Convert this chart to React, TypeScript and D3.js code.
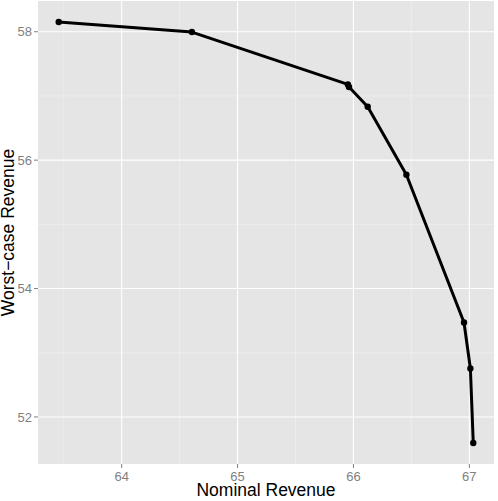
import { useEffect, useRef } from "react";
import * as d3 from "d3";

const nominal = [63.457, 64.606, 65.952, 65.962, 66.123, 66.457, 66.954, 67.009, 67.034];
const worstCase = [58.151, 57.995, 57.18, 57.14, 56.831, 55.772, 53.471, 52.755, 51.595];
const xTicks = [64, 65, 66, 67];
const yTicks = [52, 54, 56, 58];

const expand = (ext: [number, number]) => {
  const pad = (ext[1] - ext[0]) * 0.05;
  return [ext[0] - pad, ext[1] + pad];
};

export default function App() {
  const ref = useRef<SVGSVGElement>(null);

  useEffect(() => {
    const width = 498;
    const height = 501;
    const margin = { top: 1, right: 4, bottom: 37, left: 38 };
    const svg = d3.select(ref.current).html("");
    const innerWidth = width - margin.left - margin.right;
    const innerHeight = height - margin.top - margin.bottom;

    const x = d3.scaleLinear().domain(expand(d3.extent(nominal) as [number, number])).range([0, innerWidth]);
    const y = d3.scaleLinear().domain(expand(d3.extent(worstCase) as [number, number])).range([innerHeight, 0]);

    const g = svg.append("g").attr("transform", `translate(${margin.left},${margin.top})`);

    g.append("rect").attr("width", innerWidth).attr("height", innerHeight).attr("fill", "#e5e5e5");

    // minor grid
    const xMinor = d3.range(xTicks[0] - 0.5, xTicks[xTicks.length - 1] + 1, 1);
    const yMinor = d3.range(yTicks[0] - 1, yTicks[yTicks.length - 1] + 2, 2);
    g.selectAll("line.xminor")
      .data(xMinor.filter((d) => x(d) >= 0 && x(d) <= innerWidth))
      .join("line")
      .attr("x1", (d) => x(d))
      .attr("x2", (d) => x(d))
      .attr("y1", 0)
      .attr("y2", innerHeight)
      .attr("stroke", "#f2f2f2")
      .attr("stroke-width", 0.6);
    g.selectAll("line.yminor")
      .data(yMinor.filter((d) => y(d) >= 0 && y(d) <= innerHeight))
      .join("line")
      .attr("x1", 0)
      .attr("x2", innerWidth)
      .attr("y1", (d) => y(d))
      .attr("y2", (d) => y(d))
      .attr("stroke", "#f2f2f2")
      .attr("stroke-width", 0.6);

    // major grid
    g.selectAll("line.xmajor")
      .data(xTicks)
      .join("line")
      .attr("x1", (d) => x(d))
      .attr("x2", (d) => x(d))
      .attr("y1", 0)
      .attr("y2", innerHeight)
      .attr("stroke", "#ffffff")
      .attr("stroke-width", 1.1);
    g.selectAll("line.ymajor")
      .data(yTicks)
      .join("line")
      .attr("x1", 0)
      .attr("x2", innerWidth)
      .attr("y1", (d) => y(d))
      .attr("y2", (d) => y(d))
      .attr("stroke", "#ffffff")
      .attr("stroke-width", 1.1);

    const pts = nominal.map((n, i) => ({ n, w: worstCase[i] }));

    g.append("path")
      .datum(pts)
      .attr("fill", "none")
      .attr("stroke", "#000")
      .attr("stroke-width", 3)
      .attr("stroke-linejoin", "round")
      .attr("d", d3.line<{ n: number; w: number }>().x((d) => x(d.n)).y((d) => y(d.w)));

    g.selectAll("circle")
      .data(pts)
      .join("circle")
      .attr("cx", (d) => x(d.n))
      .attr("cy", (d) => y(d.w))
      .attr("r", 3.2)
      .attr("fill", "#000");

    // axes
    const xAxis = g.append("g").attr("transform", `translate(0,${innerHeight})`);
    xAxis
      .selectAll("line")
      .data(xTicks)
      .join("line")
      .attr("x1", (d) => x(d))
      .attr("x2", (d) => x(d))
      .attr("y1", 0)
      .attr("y2", 4)
      .attr("stroke", "#7f7f7f");
    xAxis
      .selectAll("text")
      .data(xTicks)
      .join("text")
      .attr("x", (d) => x(d))
      .attr("y", 17)
      .attr("text-anchor", "middle")
      .attr("fill", "#7f7f7f")
      .attr("font-size", 13)
      .text((d) => d);

    const yAxis = g.append("g");
    yAxis
      .selectAll("line")
      .data(yTicks)
      .join("line")
      .attr("x1", -4)
      .attr("x2", 0)
      .attr("y1", (d) => y(d))
      .attr("y2", (d) => y(d))
      .attr("stroke", "#7f7f7f");
    yAxis
      .selectAll("text")
      .data(yTicks)
      .join("text")
      .attr("x", -6)
      .attr("y", (d) => y(d))
      .attr("dy", "0.35em")
      .attr("text-anchor", "end")
      .attr("fill", "#7f7f7f")
      .attr("font-size", 13)
      .text((d) => d);

    svg
      .append("text")
      .attr("x", margin.left + innerWidth / 2)
      .attr("y", height - 5)
      .attr("text-anchor", "middle")
      .attr("font-size", 17.5)
      .attr("fill", "#000")
      .text("Nominal Revenue");

    svg
      .append("text")
      .attr("transform", `translate(13.5,${margin.top + innerHeight / 2}) rotate(-90)`)
      .attr("text-anchor", "middle")
      .attr("font-size", 17.5)
      .attr("fill", "#000")
      .text("Worst\u2212case Revenue");
  }, []);

  return (
    <div style={{ position: "absolute", left: 0, top: 0 }}>
      <svg
        ref={ref}
        width={498}
        height={501}
        style={{ display: "block", fontFamily: "'Liberation Sans', Arial, sans-serif" }}
      />
    </div>
  );
}
